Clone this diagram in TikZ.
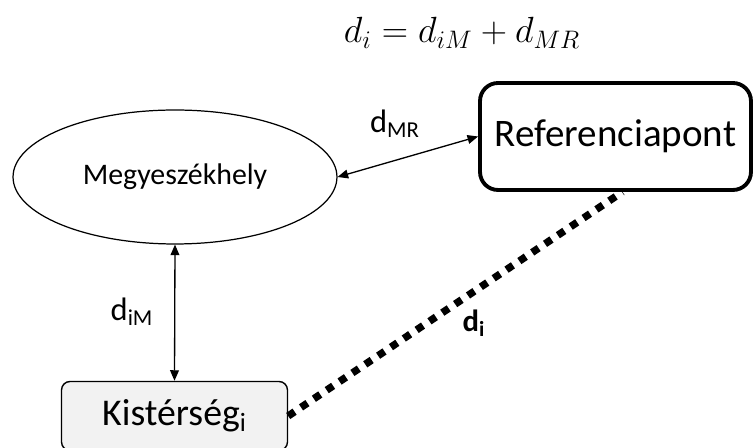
\documentclass[tikz,border=0pt]{standalone}
\usepackage{fontspec}
\setmainfont{Carlito}
\usepackage{amsmath}
\usetikzlibrary{arrows.meta,shapes.geometric}
\definecolor{BoxGray}{HTML}{F2F2F2}
\tikzset{
  ellnode/.style={draw,ellipse,line width=0.7pt,inner sep=0pt,
    minimum width=6.48cm,minimum height=2.68cm,font=\fontsize{17}{20}\selectfont},
  refnode/.style={draw,rounded corners=0.36cm,line width=2.2pt,
    minimum width=5.42cm,minimum height=2.14cm,font=\fontsize{22.2}{26}\selectfont},
  kisnode/.style={draw,rounded corners=0.17cm,line width=0.8pt,fill=BoxGray,
    minimum width=4.52cm,minimum height=1.38cm,font=\fontsize{21.5}{25}\selectfont},
  dlink/.style={line width=0.75pt,{Triangle[length=6pt,width=5pt]}-{Triangle[length=6pt,width=5pt]}},
  dotlink/.style={line width=4.2pt,dash pattern=on 4.4pt off 4.4pt},
  dlabel/.style={font=\fontsize{18.5}{22}\selectfont},
}
\begin{document}
\begin{tikzpicture}[x=0.02cm,y=-0.02cm]
  \useasboundingbox (0,0) rectangle (755,448);
  % --- formula ---
  \node[font=\fontsize{20}{24}\selectfont] (sum) at (462,33) {$d_i = d_{iM} + d_{MR}$};
  % --- places ---
  \node[ellnode] (megye) at (175,177) {Megyeszékhely};
  \node[refnode] (ref) at (615.5,136.5) {Referenciapont};
  \node[kisnode] (kis) at (174.5,416) {Kistérség\textsubscript{i}};
  % --- distances ---
  \draw[dlink] (megye.east) -- (ref.west);
  \draw[dlink] (megye.south) -- (kis.north);
  \draw[dotlink] (kis.east) -- ([xshift=0.14cm]ref.south);
  \node[dlabel] (dmr) at (395,124) {d\textsubscript{MR}};
  \node[dlabel] (dim) at (132,312) {d\textsubscript{iM}};
  \node[font=\fontsize{17.5}{21}\selectfont\bfseries] (di) at (474,323) {d\textsubscript{i}};
\end{tikzpicture}
\end{document}
